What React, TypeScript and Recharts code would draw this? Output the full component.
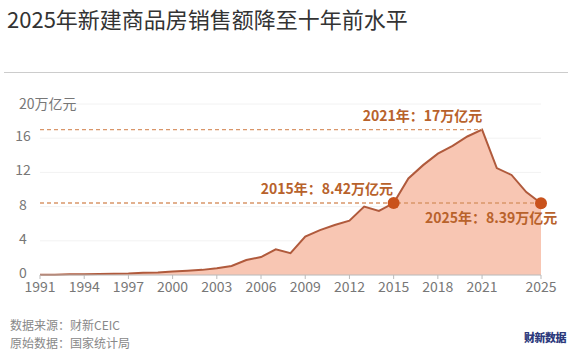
import React from 'react';
import { AreaChart, Area, XAxis, YAxis, CartesianGrid, ReferenceLine, ReferenceDot } from 'recharts';

const years = [
  1991, 1992, 1993, 1994, 1995, 1996, 1997, 1998, 1999, 2000, 2001, 2002, 2003, 2004, 2005, 2006, 2007,
  2008, 2009, 2010, 2011, 2012, 2013, 2014, 2015, 2016, 2017, 2018, 2019, 2020, 2021, 2022, 2023, 2024, 2025,
];
const sales = [
  0.03, 0.04, 0.09, 0.1, 0.13, 0.15, 0.18, 0.25, 0.3, 0.4, 0.5, 0.6, 0.8, 1.05, 1.75, 2.1, 3.0,
  2.55, 4.5, 5.25, 5.85, 6.35, 8.0, 7.5, 8.42, 11.3, 12.85, 14.2, 15.1, 16.2, 17.0, 12.5, 11.7, 9.7, 8.39,
];
const xTicks = [1991, 1994, 1997, 2000, 2003, 2006, 2009, 2012, 2015, 2018, 2021, 2025];
const yTicks = [0, 4, 8, 12, 16, 20];

const data = years.map((year, i) => ({ year, value: sales[i] }));

const FONT = '"Noto Sans CJK SC", "Noto Sans", sans-serif';
const LABEL = '#b8622b';
const DASH = '#d9966a';

// y tick: the top one doubles as the unit label
const YTick = (props: any) => {
  const { y, payload } = props;
  const top = payload.value === 20;
  return (
    <text x={top ? 19 : 23} y={y} dy={top ? 5 : 3} textAnchor={top ? 'start' : 'middle'}
      fill="#777" fontSize={14} fontFamily={FONT}>
      {top ? '20万亿元' : String(payload.value)}
    </text>
  );
};

const note = { position: 'absolute' as const, left: 10, fontSize: 12, color: '#888', lineHeight: 'normal', whiteSpace: 'nowrap' as const };

export default function App() {
  return (
    <div style={{ position: 'absolute', left: 0, top: 0, width: 572, height: 352, background: '#fff', fontFamily: FONT }}>
      <div style={{ position: 'absolute', left: 7, top: 3, fontSize: 22, color: '#333', whiteSpace: 'nowrap', lineHeight: '30px' }}>
        2025年新建商品房销售额降至十年前水平
      </div>
      <div style={{ position: 'absolute', left: 4, top: 72, width: 564, height: 1, background: '#ccc' }} />
      <div style={{ position: 'absolute', left: 0, top: 0 }}>
        <AreaChart width={572} height={352} data={data} margin={{ top: 104, right: 31, bottom: 47, left: 0 }}>
          <CartesianGrid stroke="#f2f2f2" vertical={false} />
          <XAxis dataKey="year" type="number" domain={[1991, 2025]} ticks={xTicks} height={30}
            tick={{ fill: '#777', fontSize: 14, fontFamily: FONT }} tickSize={4} tickMargin={3}
            stroke="#bbb" interval={0} />
          <YAxis type="number" domain={[0, 20]} ticks={yTicks} width={40} axisLine={false} tickLine={false}
            tick={<YTick />} interval={0} />
          <Area type="linear" dataKey="value" stroke="#b05a3c" strokeWidth={2} fill="#f8c6b3" fillOpacity={1}
            isAnimationActive={false} dot={false} activeDot={false} />
          <ReferenceLine segment={[{ x: 1991, y: 17 }, { x: 2021, y: 17 }]} stroke={DASH} strokeDasharray="4 3" strokeWidth={1.3} />
          <ReferenceLine segment={[{ x: 1991, y: 8.42 }, { x: 2025, y: 8.42 }]} stroke={DASH} strokeDasharray="4 3" strokeWidth={1.3} />
          <ReferenceDot x={2015} y={8.42} r={6} fill="#c9521c" stroke="none" />
          <ReferenceDot x={2025} y={8.39} r={6} fill="#c9521c" stroke="none" />
        </AreaChart>
      </div>
      <div style={{ position: 'absolute', left: 340, top: 105, width: 165, textAlign: 'center', fontSize: 14, fontWeight: 600, color: LABEL, whiteSpace: 'nowrap', lineHeight: '20px' }}>
        2021年：17万亿元
      </div>
      <div style={{ position: 'absolute', left: 220, top: 178, width: 173, textAlign: 'right', fontSize: 14, fontWeight: 600, color: LABEL, whiteSpace: 'nowrap', lineHeight: '20px' }}>
        2015年：8.42万亿元
      </div>
      <div style={{ position: 'absolute', left: 425, top: 207, fontSize: 14, fontWeight: 600, color: LABEL, whiteSpace: 'nowrap', lineHeight: '20px' }}>
        2025年：8.39万亿元
      </div>
      <div style={{ ...note, top: 316 }}>数据来源：财新CEIC</div>
      <div style={{ ...note, top: 334 }}>原始数据：国家统计局</div>
      <div style={{ position: 'absolute', right: 6, top: 329, fontSize: 11, fontWeight: 900, color: '#2d3a7c', letterSpacing: -0.5, whiteSpace: 'nowrap' }}>
        财新数据
      </div>
    </div>
  );
}
